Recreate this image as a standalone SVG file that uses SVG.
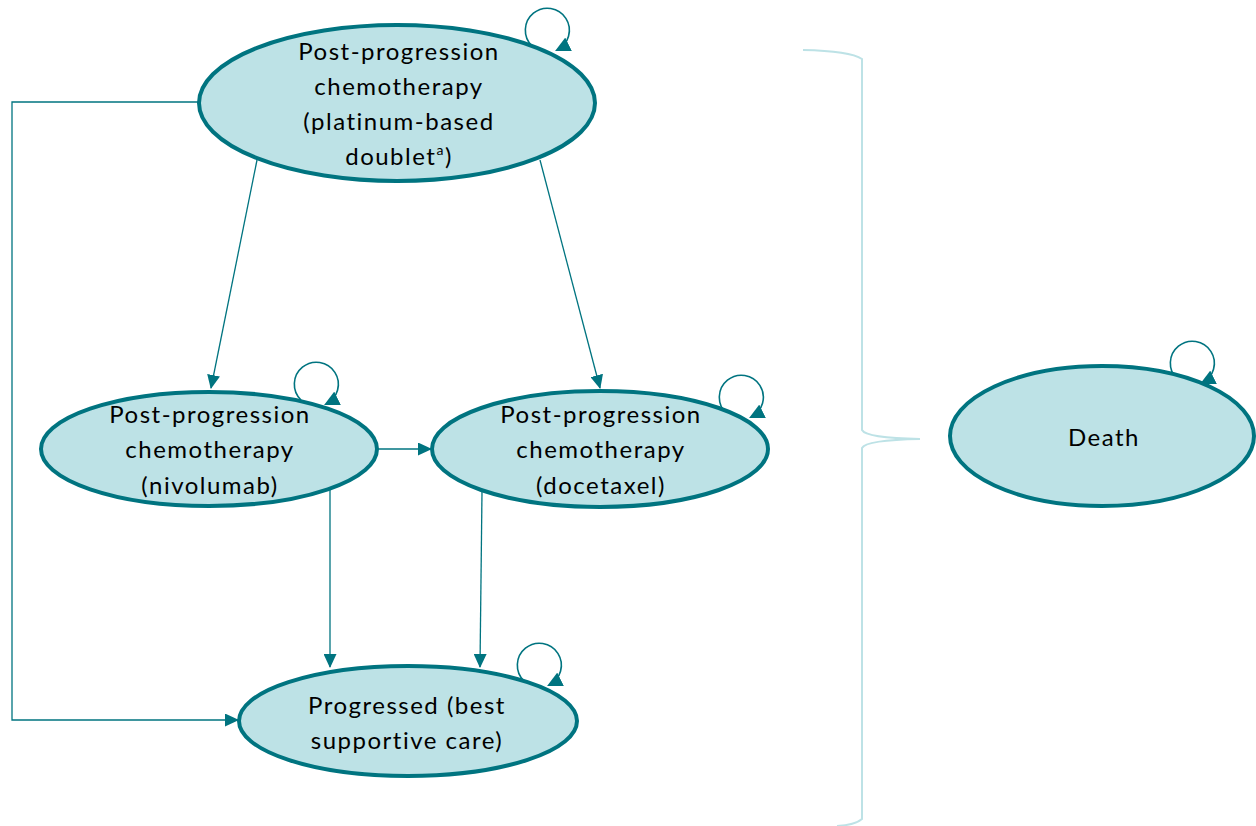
<svg xmlns="http://www.w3.org/2000/svg" width="1256" height="826" viewBox="0 0 1256 826">
  <defs>
    <style>
      .state { fill: #bde2e6; stroke: #007480; stroke-width: 4; }
      .label { font-family: Lato, "Open Sans", "Liberation Sans", sans-serif; font-size: 24px; letter-spacing: 1.5px; font-variant-ligatures: none; fill: #000; text-anchor: middle; }
      .edge { fill: none; stroke: #007480; stroke-width: 1.3; }
      .loop { fill: none; stroke: #007480; stroke-width: 1.6; }
      .brace { fill: none; stroke: #bde2e6; stroke-width: 2; }
    </style>
    <marker id="arrow" viewBox="0 0 14 13" refX="13" refY="6.5" markerWidth="14" markerHeight="13" markerUnits="userSpaceOnUse" orient="auto">
      <path d="M0,0 L14,6.5 L0,13 Z" fill="#007480"/>
    </marker>
    <marker id="loopArrow" viewBox="0 0 14 14" refX="12" refY="7" markerWidth="15" markerHeight="15" markerUnits="userSpaceOnUse" orient="auto">
      <path d="M0,0 L14,7 L0,14 Z" fill="#007480"/>
    </marker>
  </defs>

  <!-- connectors -->
  <g id="connectors">
    <line class="edge" x1="257" y1="160" x2="211" y2="388" marker-end="url(#arrow)"/>
    <line class="edge" x1="540" y1="160" x2="600" y2="388" marker-end="url(#arrow)"/>
    <line class="edge" x1="378" y1="449" x2="431" y2="449" marker-end="url(#arrow)"/>
    <line class="edge" x1="330" y1="490" x2="330" y2="667" marker-end="url(#arrow)"/>
    <line class="edge" x1="482" y1="492" x2="480" y2="667" marker-end="url(#arrow)"/>
    <polyline class="edge" points="198,102 12,102 12,720 238,720" marker-end="url(#arrow)"/>

    <!-- self transitions -->
    <path class="loop" d="M532,46 A22,22 0 1 1 557,50" marker-end="url(#loopArrow)"/>
    <path class="loop" d="M301,400 A22,22 0 1 1 326,404" marker-end="url(#loopArrow)"/>
    <path class="loop" d="M726,413 A22,22 0 1 1 751,417" marker-end="url(#loopArrow)"/>
    <path class="loop" d="M524,681 A22,22 0 1 1 549,685" marker-end="url(#loopArrow)"/>
    <path class="loop" d="M1177,379 A22,22 0 1 1 1202,383" marker-end="url(#loopArrow)"/>
  </g>

  <!-- brace grouping the alive states -->
  <path class="brace" d="M803,50 Q850,51 862,59 L862,430 Q866,438 920,439 Q866,440 862,448 L862,819 Q855,825 837,826"/>

  <g id="platinum">
    <ellipse class="state" cx="397" cy="103" rx="198" ry="78"/>
    <text class="label" x="399" y="60">Post-progression</text>
    <text class="label" x="399" y="95">chemotherapy</text>
    <text class="label" x="399" y="130">(platinum-based</text>
    <text class="label" x="399" y="165">doublet<tspan font-size="14" dy="-10">a</tspan><tspan dy="10">)</tspan></text>
  </g>

  <g id="nivolumab">
    <ellipse class="state" cx="209" cy="449" rx="168" ry="57"/>
    <text class="label" x="210" y="423">Post-progression</text>
    <text class="label" x="210" y="458">chemotherapy</text>
    <text class="label" x="210" y="494">(nivolumab)</text>
  </g>

  <g id="docetaxel">
    <ellipse class="state" cx="600" cy="449" rx="168" ry="58"/>
    <text class="label" x="601" y="423">Post-progression</text>
    <text class="label" x="601" y="458">chemotherapy</text>
    <text class="label" x="601" y="494">(docetaxel)</text>
  </g>

  <g id="progressed">
    <ellipse class="state" cx="408" cy="721" rx="169" ry="55"/>
    <text class="label" x="407" y="714">Progressed (best</text>
    <text class="label" x="407" y="749">supportive care)</text>
  </g>

  <g id="death">
    <ellipse class="state" cx="1102" cy="436" rx="152" ry="70"/>
    <text class="label" x="1104" y="446">Death</text>
  </g>
</svg>
